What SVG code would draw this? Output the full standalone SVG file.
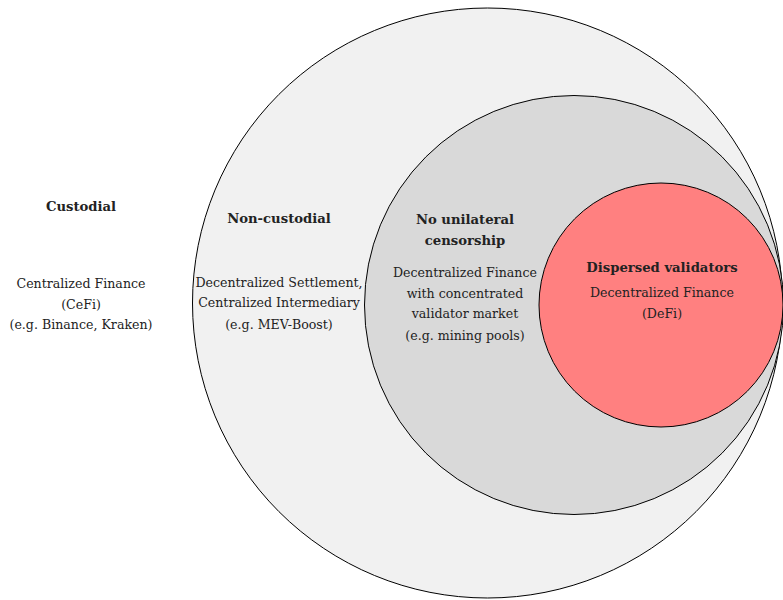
<svg xmlns="http://www.w3.org/2000/svg" width="783" height="600" viewBox="0 0 783 600">
<style>
text{font-family:"DejaVu Serif","Liberation Serif",serif;font-size:12.6px;fill:#222;text-anchor:middle}
.b{font-weight:bold;font-size:13.2px}
circle{stroke:#000;stroke-width:1}
</style>
<rect width="783" height="600" fill="#fff"/>
<g id="custodial">
<text class="b" x="81" y="211">Custodial</text>
<text x="81" y="288">Centralized Finance</text>
<text x="81" y="309">(CeFi)</text>
<text x="81" y="329">(e.g. Binance, Kraken)</text>
</g>
<g id="non-custodial">
<circle cx="487.5" cy="303" r="295" fill="#f1f1f1"/>
<text class="b" x="279" y="223">Non-custodial</text>
<text x="279" y="287">Decentralized Settlement,</text>
<text x="279" y="307">Centralized Intermediary</text>
<text x="279" y="329">(e.g. MEV-Boost)</text>
</g>
<g id="no-censorship">
<circle cx="574" cy="305" r="209.5" fill="#d9d9d9"/>
<text class="b" x="465" y="224">No unilateral</text>
<text class="b" x="465" y="245">censorship</text>
<text x="465" y="277">Decentralized Finance</text>
<text x="465" y="298">with concentrated</text>
<text x="465" y="318">validator market</text>
<text x="465" y="340">(e.g. mining pools)</text>
</g>
<g id="dispersed">
<circle cx="661" cy="305" r="122" fill="#ff8080"/>
<text class="b" x="662" y="272">Dispersed validators</text>
<text x="662" y="297">Decentralized Finance</text>
<text x="662" y="318">(DeFi)</text>
</g>
<g id="connectors"/>
</svg>
